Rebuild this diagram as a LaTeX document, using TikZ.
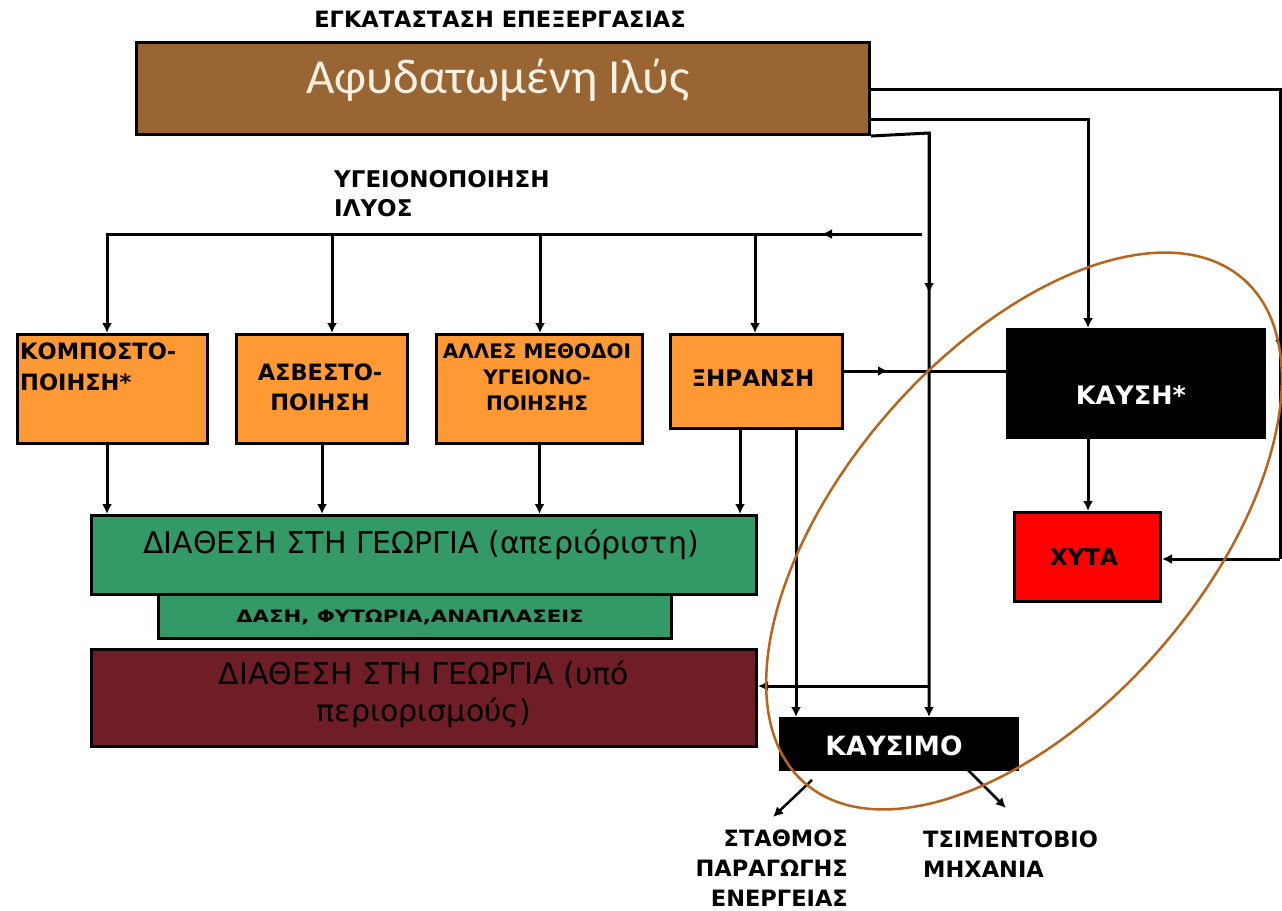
\documentclass[tikz,border=0pt]{standalone}
\usepackage{fontspec}
\setmainfont{DejaVu Sans}
\newfontfamily\sludgefont{Carlito}
\usetikzlibrary{arrows.meta}
\definecolor{sludgebrown}{RGB}{153,102,51}
\definecolor{treatorange}{RGB}{255,153,51}
\definecolor{farmgreen}{RGB}{51,153,102}
\definecolor{limitmaroon}{RGB}{111,29,39}
\definecolor{landfillred}{RGB}{255,0,0}
\definecolor{ringbrown}{RGB}{184,101,27}
\definecolor{sludgetext}{RGB}{245,240,225}

\begin{document}
\begin{tikzpicture}[x=1pt,y=-1pt,
  box/.style={draw=black, line width=3pt, inner sep=0pt, anchor=north west},
  ln/.style={line width=3pt},
  arr/.style={line width=3pt, -{Latex[length=10pt,width=10pt]}},
  lbl/.style={inner sep=0pt, font=\bfseries\fontsize{22.5}{30}\selectfont},
  mixed/.style={inner sep=0pt, font=\fontsize{30}{37}\selectfont},
]
\useasboundingbox (0,0) rectangle (1282,910);
\fill[white] (0,0) rectangle (1282,910);

% ---- boxes ----
\node[box, fill=sludgebrown, minimum width=733pt, minimum height=92pt] (sludge) at (135,41) {};
\node[box, fill=treatorange, minimum width=190pt, minimum height=109pt] (kompost) at (16,333) {};
\node[box, fill=treatorange, minimum width=171pt, minimum height=109pt] (asbesto) at (235,333) {};
\node[box, fill=treatorange, minimum width=206pt, minimum height=109pt] (alles) at (435,333) {};
\node[box, fill=treatorange, minimum width=172pt, minimum height=94pt] (xiransi) at (669,333) {};
\node[box, fill=black, minimum width=257pt, minimum height=108pt] (kaysi) at (1006,328) {};
\node[box, fill=landfillred, minimum width=146pt, minimum height=89pt] (xyta) at (1013,511) {};
\node[box, fill=farmgreen, minimum width=665pt, minimum height=79pt] (geoA) at (90,514) {};
\node[box, fill=farmgreen, minimum width=513pt, minimum height=44pt] (dasi) at (157,593) {};
\node[box, fill=limitmaroon, minimum width=665pt, minimum height=97pt] (geoB) at (90,648) {};
\node[box, fill=black, minimum width=237pt, minimum height=51pt] (kaysimo) at (779,717) {};

% ---- texts ----
\node[lbl] (title) at (500,19) {ΕΓΚΑΤΑΣΤΑΣΗ ΕΠΕΞΕΡΓΑΣΙΑΣ};
\node[inner sep=0pt, text=sludgetext, font=\sludgefont\fontsize{49}{52}\selectfont] (sludgeT) at (498,80) {Αφυδατωμένη Ιλύς};
\node[lbl, anchor=west, align=left, font=\bfseries\fontsize{23}{29}\selectfont] (ygT) at (334,194) {ΥΓΕΙΟΝΟΠΟΙΗΣΗ\\ΙΛΥΟΣ};
\node[lbl, anchor=west, align=left, font=\bfseries\fontsize{22.5}{31}\selectfont] (kompT) at (20,367) {ΚΟΜΠΟΣΤΟ-\\ΠΟΙΗΣΗ*};
\node[lbl, align=center] (asbT) at (320,387) {ΑΣΒΕΣΤΟ-\\ΠΟΙΗΣΗ};
\node[lbl, align=center, font=\bfseries\fontsize{20}{26}\selectfont] (allesT) at (537,377) {ΑΛΛΕΣ ΜΕΘΟΔΟΙ\\ΥΓΕΙΟΝΟ-\\ΠΟΙΗΣΗΣ};
\node[lbl, font=\bfseries\fontsize{23}{30}\selectfont] (xirT) at (753,378) {ΞΗΡΑΝΣΗ};
\node[lbl, text=white, font=\bfseries\fontsize{25.5}{30}\selectfont] (kaysiT) at (1131,395) {ΚΑΥΣΗ*};
\node[lbl, font=\bfseries\fontsize{23}{30}\selectfont] (xytaT) at (1084,557) {ΧΥΤΑ};
\node[mixed] (geoAT) at (421,545) {ΔΙΑΘΕΣΗ ΣΤΗ ΓΕΩΡΓΙΑ (απεριόριστη)};
\node[lbl, font=\bfseries\fontsize{17}{20}\selectfont] (dasiT) at (410,617) {\scalebox{1.25}[1]{ΔΑΣΗ, ΦΥΤΩΡΙΑ,ΑΝΑΠΛΑΣΕΙΣ}};
\node[mixed, align=center] (geoBT) at (424,694) {ΔΙΑΘΕΣΗ ΣΤΗ ΓΕΩΡΓΙΑ (υπό\\περιορισμούς)};
\node[lbl, text=white, font=\bfseries\fontsize{26.5}{30}\selectfont] (kaysimoT) at (894,746) {ΚΑΥΣΙΜΟ};
\node[lbl, anchor=east, align=right] (stathT) at (848,868) {ΣΤΑΘΜΟΣ\\ΠΑΡΑΓΩΓΗΣ\\ΕΝΕΡΓΕΙΑΣ};
\node[lbl, anchor=west, align=left] (tsimT) at (923,854) {ΤΣΙΜΕΝΤΟΒΙΟ\\ΜΗΧΑΝΙΑ};

% ---- helper points for the routed connectors ----
\coordinate (kTop) at (1088,119);
\coordinate (lTop) at (1280,89);
\coordinate (lBot) at (1280,559);
\coordinate (lMark) at (1280,350);
\coordinate (fTop) at (929,133);
\coordinate (fMark) at (929,293);
\coordinate (busR) at (922,234);
\coordinate (busL) at (107,234);
\coordinate (busMark) at (822,234);
\coordinate (dropB) at (332,234);
\coordinate (dropC) at (540,234);
\coordinate (dropD) at (755,234);
\coordinate (xA) at (740,427);
\coordinate (xB) at (796,427);
\coordinate (dk) at (888,371);
\coordinate (rj) at (929,686);
\coordinate (o1s) at (812,780);
\coordinate (o1e) at (773,817);
\coordinate (o2s) at (968,770);
\coordinate (o2e) at (1006,808);

% ---- connectors ----
% sludge to combustion
\draw[arr] (sludge.east |- kTop) -- (kTop) -- (kTop |- kaysi.north);
% sludge to landfill
\draw[ln] (sludge.east |- lTop) -- (lTop) -- (lBot);
\draw[arr] (lTop) -- (lMark);
\draw[arr] (lBot) -- (lBot -| xyta.east);
% sludge to fuel
\draw[arr] (sludge.south east) -- (fTop) -- (fTop |- kaysimo.north);
\draw[arr] (fTop) -- (fMark);
% sanitation bus
\draw[arr] (busR) -- (busL) -- (busL |- kompost.north);
\draw[arr] (busR) -- (busMark);
\draw[arr] (dropB) -- (dropB |- asbesto.north);
\draw[arr] (dropC) -- (dropC |- alles.north);
\draw[arr] (dropD) -- (dropD |- xiransi.north);
% treatments to unrestricted farmland
\draw[arr] (kompost.south -| busL) -- (busL |- geoA.north);
\draw[arr] (asbesto.south) -- (asbesto.south |- geoA.north);
\draw[arr] (alles.south) -- (alles.south |- geoA.north);
\draw[arr] (xA) -- (xA |- geoA.north);
% drying to combustion and to fuel
\draw[ln] (xiransi.east |- dk) -- (dk -| kaysi.west);
\draw[arr] (xiransi.east |- dk) -- (dk);
\draw[arr] (xB) -- (xB |- kaysimo.north);
% combustion to landfill
\draw[arr] (kaysi.south -| kTop) -- (kTop |- xyta.north);
% branch to restricted farmland
\draw[arr] (rj) -- (rj -| geoB.east);
% fuel outlets
\draw[line width=2.5pt, -{Latex[length=10pt,width=10pt]}] (o1s) -- (o1e);
\draw[line width=2.5pt, -{Latex[length=10pt,width=10pt]}] (o2s) -- (o2e);

% ---- ring around the thermal routes ----
\draw[ringbrown, line width=2.5pt, rotate around={49:(1024,531)}] (1024,531) ellipse [x radius=334, y radius=180];
\end{tikzpicture}
\end{document}
